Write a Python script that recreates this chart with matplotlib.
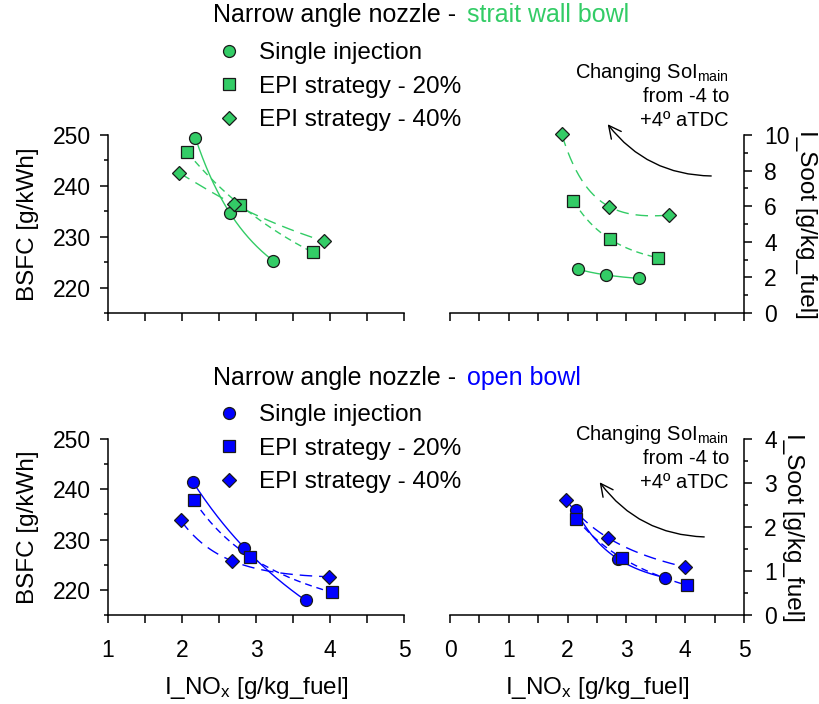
import numpy as np
import matplotlib
matplotlib.use("Agg")
import matplotlib.pyplot as plt
from matplotlib.ticker import MultipleLocator
from matplotlib.lines import Line2D
from matplotlib.patches import FancyArrowPatch

plt.rcParams['font.family'] = ['Liberation Sans', 'DejaVu Sans']
plt.rcParams['mathtext.fontset'] = 'custom'
plt.rcParams['mathtext.rm'] = 'Liberation Sans'
plt.rcParams['mathtext.it'] = 'Liberation Sans'

series_names = ["Single injection", "EPI strategy - 20%", "EPI strategy - 40%"]

# --- Strait wall bowl (green) ---
sw_bsfc_nox = [[2.18, 2.65, 3.23], [2.07, 2.78, 3.77], [1.955, 2.70, 3.92]]
sw_bsfc = [[249.5, 234.6, 225.3], [246.6, 236.3, 226.9], [242.6, 236.4, 229.1]]
sw_soot_nox = [[2.18, 2.65, 3.22], [2.10, 2.72, 3.54], [1.90, 2.71, 3.73]]
sw_soot = [[2.46, 2.14, 1.94], [6.30, 4.15, 3.10], [10.05, 5.97, 5.50]]

# --- Open bowl (blue) ---
ob_bsfc_nox = [[2.15, 2.84, 3.67], [2.16, 2.92, 4.03], [1.98, 2.67, 3.99]]
ob_bsfc = [[241.4, 228.4, 217.9], [237.8, 226.6, 219.5], [233.9, 225.8, 222.6]]
ob_soot_nox = [[2.14, 2.85, 3.66], [2.15, 2.92, 4.03], [1.97, 2.68, 4.00]]
ob_soot = [[2.38, 1.28, 0.85], [2.19, 1.30, 0.675], [2.62, 1.76, 1.09]]

GREEN = '#33cc66'
BLUE = '#0000ff'
markers = ['o', 's', 'D']
msizes = [8.6, 8.0, 7.6]
styles = ['-', (0, (5, 3.5)), (0, (9, 5))]

W, H = 819, 704
fig = plt.figure(figsize=(W / 100, H / 100), dpi=100)

def px_axes(x0, y0, x1, y1):
    return fig.add_axes([x0 / W, 1 - y1 / H, (x1 - x0) / W, (y1 - y0) / H])

TICK_FS = 16.5
LABEL_FS = 17.5
TITLE_FS = 18
LEG_FS = 17.5
ANN_FS = 14.5

def style_axes(ax, side):
    ax.spines['top'].set_visible(False)
    if side == 'left':
        ax.spines['right'].set_visible(False)
        ypad = 7
    else:
        ax.spines['left'].set_visible(False)
        ax.yaxis.tick_right()
        ax.yaxis.set_label_position('right')
        ypad = 9
    for s in ax.spines.values():
        s.set_linewidth(1.1)
    ax.tick_params(which='major', direction='out', length=5.5, width=1.1, labelsize=TICK_FS)
    ax.tick_params(axis='x', which='major', pad=12)
    ax.tick_params(axis='y', which='major', pad=ypad)
    ax.tick_params(axis='x', which='minor', direction='out', length=5.5, width=1.1)
    ax.tick_params(axis='y', which='minor', direction='out', length=3, width=1.1)
    ax.patch.set_alpha(0)

def draw_series(ax, xs, ys, color):
    for i in range(3):
        x = np.array(xs[i]); y = np.array(ys[i])
        c = np.polyfit(1.0 / x, y, 2)
        xx = np.linspace(x.min(), x.max(), 150)
        ax.plot(xx, np.polyval(c, 1.0 / xx), color=color, lw=1.0, linestyle=styles[i], zorder=2)
        ax.plot(x, y, linestyle='none', marker=markers[i], ms=msizes[i], mfc=color,
                mec='#1a1a1a', mew=0.9, zorder=3, clip_on=False)

def make_row(y0, y1, xsb, ysb, xss, yss, color, soot_max, soot_major, soot_minor, show_xlabels):
    axl = px_axes(108, y0, 404, y1)
    axr = px_axes(450, y0, 744, y1)
    style_axes(axl, 'left')
    style_axes(axr, 'right')
    axl.set_xlim(1, 5); axl.set_ylim(215, 250)
    axl.xaxis.set_major_locator(MultipleLocator(1)); axl.xaxis.set_minor_locator(MultipleLocator(0.5))
    axl.yaxis.set_minor_locator(MultipleLocator(5))
    axl.set_yticks([220, 230, 240, 250])
    axr.set_xlim(0, 5); axr.set_ylim(0, soot_max)
    axr.xaxis.set_major_locator(MultipleLocator(1)); axr.xaxis.set_minor_locator(MultipleLocator(0.5))
    axr.yaxis.set_major_locator(MultipleLocator(soot_major)); axr.yaxis.set_minor_locator(MultipleLocator(soot_minor))
    axl.set_ylabel('BSFC [g/kWh]', fontsize=LABEL_FS, labelpad=10)
    axr.set_ylabel('I_Soot [g/kg_fuel]', fontsize=LABEL_FS, rotation=-90, va='bottom', labelpad=4)
    if show_xlabels:
        for a in (axl, axr):
            a.set_xlabel(r'I_NO$_\mathregular{x}$ [g/kg_fuel]', fontsize=LABEL_FS, labelpad=9)
    else:
        axl.tick_params(labelbottom=False)
        axr.tick_params(labelbottom=False)
    draw_series(axl, xsb, ysb, color)
    draw_series(axr, xss, yss, color)
    return axl, axr

make_row(135, 313, sw_bsfc_nox, sw_bsfc, sw_soot_nox, sw_soot, GREEN, 10, 2, 1, False)
make_row(439, 615, ob_bsfc_nox, ob_bsfc, ob_soot_nox, ob_soot, BLUE, 4, 1, 0.5, True)

def fx(px):
    return px / W

def fy(py):
    return 1 - py / H

renderer = fig.canvas.get_renderer()

# titles
for ty, word, col in [(15, 'strait wall bowl', GREEN), (378, 'open bowl', BLUE)]:
    t = fig.text(fx(213), fy(ty), 'Narrow angle nozzle -', fontsize=TITLE_FS, ha='left', va='center')
    bb = t.get_window_extent(renderer=renderer)
    space = TITLE_FS * 100 / 72 * 0.42
    fig.text((bb.x1 + space) / W, fy(ty), word, fontsize=TITLE_FS, ha='left', va='center', color=col)

# legends
for ly, col in [(42, GREEN), (404, BLUE)]:
    handles = [Line2D([], [], linestyle='none', marker=markers[i], ms=msizes[i], mfc=col,
                      mec='#1a1a1a', mew=0.9) for i in range(3)]
    fig.legend(handles, series_names, loc='upper left', bbox_to_anchor=(fx(214), fy(ly)),
               frameon=False, fontsize=LEG_FS, handletextpad=0.66, labelspacing=0.48,
               borderaxespad=0, borderpad=0, handlelength=1.2)

# annotations
for base, tail, head in [(73, (714, 176), (606, 122)), (435, (707, 537), (598, 480))]:
    fig.text(fx(729), fy(base), r'Changing SoI$_\mathregular{main}$', fontsize=ANN_FS, ha='right', va='center')
    fig.text(fx(729), fy(base + 24), 'from -4 to', fontsize=ANN_FS, ha='right', va='center')
    fig.text(fx(729), fy(base + 47), '+4º aTDC', fontsize=ANN_FS, ha='right', va='center')
    arr = FancyArrowPatch((fx(tail[0]), fy(tail[1])), (fx(head[0]), fy(head[1])),
                          transform=fig.transFigure, arrowstyle='->,head_length=9,head_width=4.5',
                          connectionstyle='arc3,rad=-0.25', color='black', lw=1.0)
    fig.add_artist(arr)

fig.savefig('out.png', dpi=100)
